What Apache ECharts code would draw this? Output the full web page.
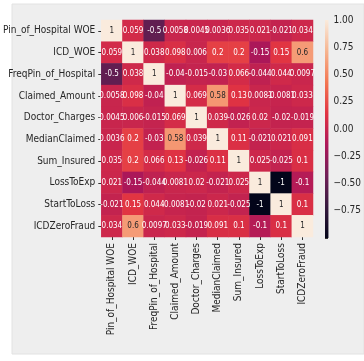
<!DOCTYPE html>
<html>
<head>
<meta charset="utf-8">
<script src="https://cdn.jsdelivr.net/npm/echarts@6/dist/echarts.min.js"></script>
<style>
  html, body { margin: 0; padding: 0; background: #ffffff; }
  #chart { width: 364px; height: 361px; }
</style>
</head>
<body>
<div id="chart"></div>
<script>
// feature names (rows top->bottom, columns left->right)
const features = [
  'Pin_of_Hospital WOE', 'ICD_WOE', 'FreqPin_of_Hospital', 'Claimed_Amount',
  'Doctor_Charges', 'MedianClaimed', 'Sum_Insured', 'LossToExp',
  'StartToLoss', 'ICDZeroFraud'
];

// correlation matrix
const corrRows = [
  [1, 0.059, -0.5, 0.0058, 0.0045, 0.0036, 0.035, 0.021, -0.021, 0.034],
  [0.059, 1, 0.038, 0.098, 0.006, 0.2, 0.2, -0.15, 0.15, 0.6],
  [-0.5, 0.038, 1, -0.04, -0.015, -0.03, 0.066, -0.044, 0.044, 0.0097],
  [0.0058, 0.098, -0.04, 1, 0.069, 0.58, 0.13, 0.0081, -0.0081, 0.033],
  [0.0045, 0.006, -0.015, 0.069, 1, 0.039, -0.026, 0.02, -0.02, -0.019],
  [0.0036, 0.2, -0.03, 0.58, 0.039, 1, 0.11, -0.021, 0.021, 0.091],
  [0.035, 0.2, 0.066, 0.13, -0.026, 0.11, 1, 0.025, -0.025, 0.1],
  [0.021, -0.15, -0.044, 0.0081, 0.02, -0.021, 0.025, 1, -1, -0.1],
  [-0.021, 0.15, 0.044, -0.0081, -0.02, 0.021, -0.025, -1, 1, 0.1],
  [0.034, 0.6, 0.0097, 0.033, -0.019, 0.091, 0.1, -0.1, 0.1, 1]
];

// colorbar ticks
const cbarMin = -1;
const cbarMax = 1;
const cbarStep = 0.25;

// seaborn "rocket" colormap
const rocket = ['#03051a', '#35193e', '#701f57', '#ad1759', '#e13342', '#f37651', '#f6b48f', '#faebdd'];

const chart = echarts.init(document.getElementById('chart'), null, { renderer: 'canvas' });

const cells = [];
corrRows.forEach(function (row, i) {
  row.forEach(function (v, j) {
    cells.push({
      value: [j, i, v],
      label: { color: v > 0.5 ? '#262626' : '#ffffff' }
    });
  });
});

const font = '"DejaVu Sans Condensed", "Liberation Sans Narrow", "DejaVu Sans"';

const option = {
  backgroundColor: '#ffffff',
  animation: false,
  graphic: [{
    type: 'rect',
    z: -10,
    silent: true,
    shape: { x: 12, y: 4, width: 352, height: 350 },
    style: { fill: '#eeeeee', stroke: '#e2e2e2', lineWidth: 1 }
  }],
  grid: [
    { left: 101, top: 20, width: 212, height: 217 },
    { left: 325, top: 20, width: 8, height: 218 }
  ],
  xAxis: [{
    gridIndex: 0,
    type: 'category',
    data: features,
    axisLine: { show: false },
    axisTick: { show: true, alignWithLabel: true, length: 3, lineStyle: { color: '#333333' } },
    axisLabel: { rotate: 90, margin: 6, fontSize: 10, fontFamily: font, color: '#262626' },
    splitLine: { show: false }
  }, {
    gridIndex: 1,
    type: 'value',
    min: 0,
    max: 1,
    show: false
  }],
  yAxis: [{
    gridIndex: 0,
    type: 'category',
    data: features,
    inverse: true,
    axisLine: { show: false },
    axisTick: { show: true, alignWithLabel: true, length: 3, lineStyle: { color: '#333333' } },
    axisLabel: { margin: 6, fontSize: 10, fontFamily: font, color: '#262626' },
    splitLine: { show: false }
  }, {
    gridIndex: 1,
    type: 'value',
    position: 'right',
    min: cbarMin,
    max: cbarMax,
    interval: cbarStep,
    axisLine: { show: false },
    axisTick: { show: true, length: 3, lineStyle: { color: '#333333' } },
    axisLabel: {
      margin: 5, fontSize: 10, fontFamily: font, color: '#262626',
      formatter: function (v) {
        if (v <= cbarMin + 1e-9) return '';
        return v < 0 ? '\u2212' + Math.abs(v).toFixed(2) : v.toFixed(2);
      }
    },
    splitLine: { show: false }
  }],
  visualMap: {
    show: false,
    type: 'continuous',
    min: cbarMin,
    max: cbarMax,
    seriesIndex: 0,
    dimension: 2,
    inRange: { color: rocket }
  },
  series: [{
    type: 'heatmap',
    xAxisIndex: 0,
    yAxisIndex: 0,
    data: cells,
    label: {
      show: true,
      fontSize: 8,
      fontFamily: font,
      formatter: function (p) { return String(p.value[2]); }
    },
    itemStyle: { borderWidth: 0 }
  }, {
    type: 'custom',
    xAxisIndex: 1,
    yAxisIndex: 1,
    silent: true,
    data: [[0, cbarMin, 1, cbarMax]],
    renderItem: function (params, api) {
      const p0 = api.coord([api.value(0), api.value(3)]);
      const p1 = api.coord([api.value(2), api.value(1)]);
      return {
        type: 'rect',
        shape: { x: p0[0], y: p0[1], width: p1[0] - p0[0], height: p1[1] - p0[1] },
        style: {
          fill: new echarts.graphic.LinearGradient(0, 1, 0, 0, rocket.map(function (c, k) {
            return { offset: k / (rocket.length - 1), color: c };
          }))
        }
      };
    }
  }]
};

chart.setOption(option);
</script>
</body>
</html>
